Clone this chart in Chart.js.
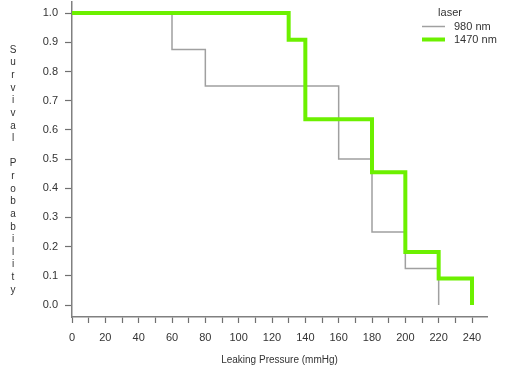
<!DOCTYPE html>
<html>
<head>
<meta charset="utf-8">
<script src="https://cdn.jsdelivr.net/npm/chart.js@4.4.1/dist/chart.umd.min.js"></script>
<style>
  html, body { margin: 0; padding: 0; background: #ffffff; }
  canvas { display: block; }
</style>
</head>
<body>
<canvas id="c" width="517" height="373"></canvas>
<script>
// ---- data ----
const legendTitle = 'laser';
const seriesNames = ['980 nm', '1470 nm'];
const pressure980 = [0, 60, 80, 160, 180, 200, 220];
const survival980 = [1.0, 0.875, 0.75, 0.5, 0.25, 0.125, 0.0];
const pressure1470 = [0, 130, 140, 180, 200, 220, 240];
const survival1470 = [1.0, 0.909, 0.636, 0.455, 0.182, 0.091, 0.0];
const xTickValues = [0, 10, 20, 30, 40, 50, 60, 70, 80, 90, 100, 110, 120, 130, 140, 150, 160, 170, 180, 190, 200, 210, 220, 230, 240];
const xTickLabelValues = [0, 20, 40, 60, 80, 100, 120, 140, 160, 180, 200, 220, 240];
const yTickValues = [0.0, 0.1, 0.2, 0.3, 0.4, 0.5, 0.6, 0.7, 0.8, 0.9, 1.0];
const xTitle = 'Leaking Pressure (mmHg)';
const yTitle = 'Survival Probability';

const colors = ['#a0a0a0', '#6cf000'];
const widths = [1.5, 4];

const FONT = '"Liberation Sans", Arial, sans-serif';

const toPoints = (xs, ys) => xs.map((x, i) => ({ x: x, y: ys[i] }));

const legendAndTitlePlugin = {
  id: 'customDecor',
  afterDraw(chart) {
    const ctx = chart.ctx;
    ctx.save();
    // vertical stacked y title
    ctx.fillStyle = '#333333';
    ctx.font = '10px ' + FONT;
    ctx.textAlign = 'center';
    ctx.textBaseline = 'middle';
    const letters = yTitle.split('');
    letters.forEach((ch, i) => {
      if (ch !== ' ') ctx.fillText(ch, 13, 50 + i * 12.63);
    });
    // legend
    ctx.font = '11px ' + FONT;
    ctx.fillStyle = '#333333';
    ctx.textAlign = 'center';
    ctx.fillText(legendTitle, 450, 13);
    ctx.textAlign = 'left';
    const rows = [26.5, 39.5];
    chart.data.datasets.forEach((ds, i) => {
      ctx.strokeStyle = ds.borderColor;
      ctx.lineWidth = ds.borderWidth;
      ctx.beginPath();
      ctx.moveTo(422, rows[i]);
      ctx.lineTo(445, rows[i]);
      ctx.stroke();
      ctx.fillStyle = '#333333';
      ctx.fillText(ds.label, 454, rows[i] + 0.5);
    });
    ctx.restore();
  }
};

new Chart(document.getElementById('c'), {
  type: 'line',
  data: {
    datasets: [
      {
        label: seriesNames[0],
        data: toPoints(pressure980, survival980),
        borderColor: colors[0],
        borderWidth: widths[0],
        stepped: true,
        pointRadius: 0,
        fill: false,
        order: 1
      },
      {
        label: seriesNames[1],
        data: toPoints(pressure1470, survival1470),
        borderColor: colors[1],
        borderWidth: widths[1],
        stepped: true,
        pointRadius: 0,
        fill: false,
        order: 0
      }
    ]
  },
  options: {
    responsive: false,
    animation: false,
    layout: { padding: { left: 0, right: 30, top: 2, bottom: 0 } },
    plugins: {
      legend: { display: false },
      tooltip: { enabled: false }
    },
    scales: {
      x: {
        type: 'linear',
        min: 0,
        max: 249,
        afterBuildTicks: (s) => { s.ticks = xTickValues.map(v => ({ value: v })); },
        afterFit: (s) => { s.height = 56; s.paddingLeft = 0; s.paddingRight = 0; },
        grid: {
          display: true,
          drawOnChartArea: false,
          drawTicks: true,
          tickLength: 6,
          tickColor: '#707070',
          tickWidth: 1.2
        },
        border: { display: true, color: '#808080', width: 1.5 },
        ticks: {
          autoSkip: false,
          maxRotation: 0,
          padding: 8,
          color: '#333333',
          font: { family: FONT, size: 11 },
          callback: (v) => xTickLabelValues.includes(v) ? String(v) : ''
        },
        title: {
          display: true,
          text: xTitle,
          color: '#333333',
          font: { family: FONT, size: 10 },
          padding: { top: 0, bottom: 7 }
        }
      },
      y: {
        type: 'linear',
        min: -0.041,
        max: 1.038,
        afterBuildTicks: (s) => { s.ticks = yTickValues.map(v => ({ value: v })); },
        afterFit: (s) => { s.width = 72; s.paddingTop = 0; s.paddingBottom = 0; },
        grid: {
          display: true,
          drawOnChartArea: false,
          drawTicks: true,
          tickLength: 7,
          tickColor: '#707070',
          tickWidth: 1.2
        },
        border: { display: true, color: '#808080', width: 1.5 },
        ticks: {
          padding: 7,
          color: '#333333',
          font: { family: FONT, size: 11 },
          callback: (v) => Number(v).toFixed(1)
        }
      }
    }
  },
  plugins: [legendAndTitlePlugin]
});
</script>
</body>
</html>
